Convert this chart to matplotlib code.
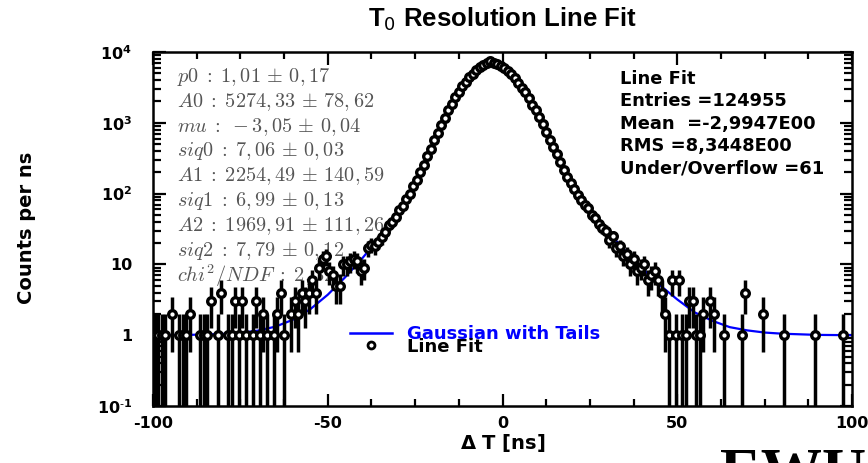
import numpy as np
import matplotlib
matplotlib.use("Agg")
import matplotlib.pyplot as plt
from matplotlib.ticker import MultipleLocator, LogLocator, NullFormatter
from matplotlib.lines import Line2D

# ---- dados (bins de 1 ns, de -100 a 100) ----
bin_centers = np.arange(-99.5, 100.0, 1.0)

# cauda esquerda: -99.5 .. -55.5
counts_left_tail = [1, 1, 1, 1, 0, 2, 0, 1, 1, 1,
                    2, 0, 0, 1, 1, 1, 3, 0, 1, 4,
                    0, 1, 1, 3, 1, 3, 1, 0, 1, 3,
                    1, 2, 1, 0, 1, 2, 4, 1, 0, 2,
                    3, 2, 4, 3, 4]
# nucleo esquerdo: -54.5 .. -3.5
counts_left_core = [6, 4, 9, 12, 13, 8, 7, 5, 5, 10,
                    10, 11, 12, 11, 8, 9, 17, 19, 18, 21,
                    24, 29, 36, 40, 47, 59, 66, 84, 98, 128,
                    155, 205, 255, 340, 430, 570, 720, 940, 1180, 1500,
                    1850, 2280, 2720, 3260, 3790, 4380, 4950, 5500, 6050, 6560,
                    7000, 7350]
# nucleo direito: -2.5 .. 54.5
counts_right_core = [7050, 6700, 6400, 5850, 5400, 4850, 4300, 3700, 3150, 2700,
                     2250, 1800, 1500, 1190, 950, 740, 580, 450, 360, 280,
                     215, 172, 140, 118, 96, 80, 68, 62, 50, 45,
                     37, 33, 30, 22, 25, 17, 18, 13, 14, 10,
                     12, 8, 9, 10, 6, 7, 8, 6, 4, 2,
                     1, 6, 1, 6, 1, 1, 3, 3]
# cauda direita: 55.5 .. 99.5
counts_right_tail = [1, 1, 2, 0, 3, 2, 0, 0, 1, 0,
                     0, 0, 0, 1, 4, 0, 0, 0, 0, 2,
                     0, 0, 0, 0, 0, 1, 0, 0, 0, 0,
                     0, 0, 0, 0, 1, 0, 0, 0, 0, 0,
                     0, 0, 1, 0, 0]

# curva do ajuste "Gaussian with Tails"
fit_x = [-100, -90, -80, -75, -70, -65, -60, -55, -50, -45, -40, -35, -30,
         -27.5, -25, -22.5, -20, -17.5, -15, -12.5, -10, -8, -6, -4, -3.05,
         -2, 0, 2, 4, 6, 8, 10, 12.5, 15, 17.5, 20, 22.5, 25, 30, 35, 40,
         45, 50, 55, 60, 65, 70, 75, 80, 90, 100]
fit_y = [1.0, 1.01, 1.04, 1.08, 1.16, 1.32, 1.65, 2.33, 3.73, 6.6, 12.4, 24.5, 52,
         82, 141, 259, 496, 935, 1668, 2737, 4083, 5235, 6312, 7195, 7529,
         6939, 6137, 5115, 4001, 2937, 2028, 1326, 735, 395, 218, 129, 83, 57, 29.4, 15.9, 8.8,
         5.1, 3.2, 2.1, 1.6, 1.3, 1.17, 1.09, 1.05, 1.01, 1.0]

fit_params = [r"$p0\;:\;1,01\,\pm\,0,17$",
              r"$A0\;:\;5274,33\,\pm\,78,62$",
              r"$mu\;:\;-3,05\,\pm\,0,04$",
              r"$siq0\;:\;7,06\,\pm\,0,03$",
              r"$A1\;:\;2254,49\,\pm\,140,59$",
              r"$siq1\;:\;6,99\,\pm\,0,13$",
              r"$A2\;:\;1969,91\,\pm\,111,26$",
              r"$siq2\;:\;7,79\,\pm\,0,12$",
              r"$chi^2/NDF\;:\;2,32$"]

stats_lines = ["Line Fit", "Entries =124955", "Mean  =-2,9947E00",
               "RMS =8,3448E00", "Under/Overflow =61"]

x_ticks = [-100, -50, 0, 50, 100]
x_ticklabels = ["-100", "-50", "0", "50", "100"]
y_ticks = [0.1, 1, 10, 100, 1000, 10000]
y_ticklabels = [r"$\mathbf{10^{\text{-}1}}$", "1", "10", r"$\mathbf{10^{2}}$",
                r"$\mathbf{10^{3}}$", r"$\mathbf{10^{4}}$"]

plt.rcParams["font.family"] = ["DejaVu Sans"]
plt.rcParams["mathtext.fontset"] = "dejavusans"

counts = np.array(counts_left_tail + counts_left_core + counts_right_core + counts_right_tail,
                  dtype=float)
ok = counts > 0
xs = bin_centers[ok]
ys = counts[ok]
err = np.sqrt(ys)

fig = plt.figure(figsize=(8.68, 4.63), dpi=100)
ax = fig.add_axes([153 / 868, 1 - 406 / 463, 699 / 868, 354 / 463])

ax.plot(fit_x, fit_y, color="#0000ff", lw=1.6, zorder=2)
ax.errorbar(xs, ys, xerr=0.5, yerr=err, fmt="o", ms=5.5, mfc="white", mec="black",
            mew=2.4, ecolor="black", elinewidth=2.5, capsize=0, zorder=3)

ax.set_yscale("log")
ax.set_xlim(-100, 100)
ax.set_ylim(0.1, 1e4)

# ---- eixos estilo ROOT ----
for s in ax.spines.values():
    s.set_linewidth(1.8)
ax.set_xticks(x_ticks, labels=x_ticklabels)
ax.xaxis.set_minor_locator(MultipleLocator(12.5))
ax.set_yticks(y_ticks, labels=y_ticklabels)
ax.yaxis.set_minor_locator(LogLocator(base=10, subs=np.arange(2, 10)))
ax.yaxis.set_minor_formatter(NullFormatter())
ax.tick_params(which="both", direction="in", top=True, right=True, width=1.6)
ax.tick_params(axis="x", which="major", length=9, pad=7, labelsize=11.5)
ax.tick_params(axis="x", which="minor", length=5)
ax.tick_params(axis="y", which="major", length=9, pad=15, labelsize=11.5)
ax.tick_params(axis="y", which="minor", length=5.5)
for lab in ax.get_xticklabels() + ax.get_yticklabels():
    lab.set_fontweight("bold")

ax.set_xlabel(r"$\mathbf{\Delta}$ T [ns]", fontsize=14, fontweight="bold")
ax.xaxis.set_label_coords(0.5, -0.073)
ax.set_ylabel("Counts per ns", fontsize=14, fontweight="bold")
ax.yaxis.set_label_coords(-0.168, 0.503)

fig.text(502 / 868, 1 - 19 / 463, r"T$_0$ Resolution Line Fit", ha="center", va="center",
         fontsize=18.5, fontweight="bold", family="Liberation Sans")

# parametros do ajuste (texto cinza, fonte tipo latex)
for i, t in enumerate(fit_params):
    ax.text(0.034, (406 - 77 - 24.8 * i) / 354, t, transform=ax.transAxes,
            ha="left", va="center", fontsize=14.6, color="#555555",
            math_fontfamily="cm", zorder=1)

# caixa de estatisticas
for i, t in enumerate(stats_lines):
    ax.text(0.668, (406 - 79 - 22.3 * i) / 354, t, transform=ax.transAxes,
            ha="left", va="center", fontsize=12.9, fontweight="bold", zorder=4)

handles = [Line2D([], [], color="#0000ff", lw=1.8),
           Line2D([], [], ls="none", marker="o", ms=5, mfc="white", mec="black", mew=2.0)]
leg = ax.legend(handles, ["Gaussian with Tails", "Line Fit"], frameon=False,
                loc="upper left", bbox_to_anchor=((350 - 153) / 699, (406 - 325) / 354),
                borderpad=0, borderaxespad=0, handlelength=2.3, handletextpad=0.85,
                labelspacing=-0.3, prop={"weight": "bold", "size": 13})
leg.get_texts()[0].set_color("#0000ff")

fig.text(720 / 868, 1 - 490 / 463, "EWU", ha="left", va="baseline",
         fontsize=44, fontweight="bold", family="Liberation Serif")

fig.savefig("out.png", dpi=100)
